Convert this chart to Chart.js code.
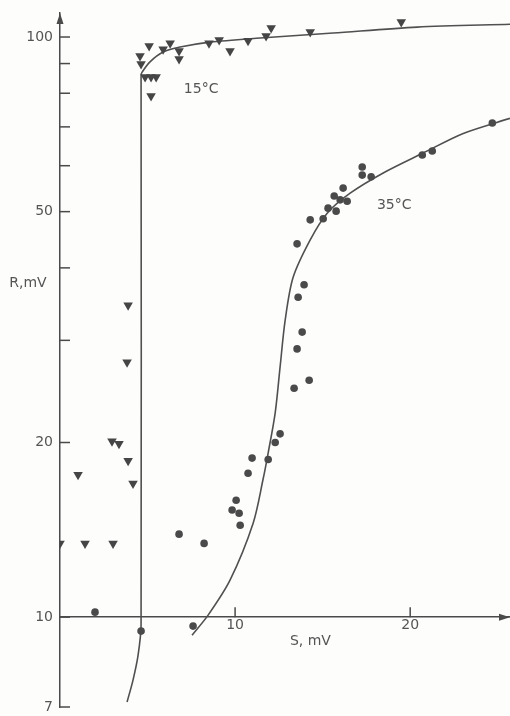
<!DOCTYPE html>
<html>
<head>
<meta charset="utf-8">
<script src="https://cdn.jsdelivr.net/npm/chart.js@4/dist/chart.umd.min.js"></script>
<style>
  body { margin: 0; background: #fdfdfc; }
  #wrap { width: 510px; height: 716px; }
</style>
</head>
<body>
<div id="wrap"><canvas id="cv1" width="510" height="716"></canvas></div>
<script>
// 15 C, triangles
const tri15X = [4.57, 4.63, 5.09, 4.86, 5.2, 5.49, 5.2, 5.89, 6.29, 6.8, 6.8, 8.51, 9.09, 9.71, 10.74, 11.77, 12.06, 14.29, 19.49,
  3.89, 3.83, 2.97, 3.37, 3.89, 4.17, 1.03, 0, 1.43, 3.03];
const tri15Y = [92.7, 89.8, 96.5, 85.3, 85.3, 85.3, 79.1, 95.3, 97.6, 94.6, 91.6, 97.6, 98.8, 94.6, 98.5, 100.4, 103.6, 102.0, 106.1,
  34.5, 27.5, 20.1, 19.9, 18.6, 17.0, 17.6, 13.4, 13.4, 13.4];

// 35 C, dots
const dot35X = [2.0, 4.63, 6.8, 8.23, 7.6, 10.06, 9.83, 10.23, 10.29, 10.74, 10.97, 11.89, 12.29, 12.57, 13.37, 14.23, 13.54, 13.83,
  13.6, 13.94, 13.54, 14.29, 15.03, 15.31, 15.77, 15.66, 16.0, 16.4, 16.17, 17.26, 17.26, 17.77, 20.69, 21.26, 24.69];
const dot35Y = [10.2, 9.46, 13.9, 13.4, 9.65, 15.9, 15.3, 15.1, 14.4, 17.7, 18.8, 18.7, 20.0, 20.7, 24.8, 25.6, 29.0, 31.0,
  35.6, 37.4, 44.0, 48.4, 48.6, 50.7, 50.1, 53.2, 52.4, 52.1, 54.9, 59.7, 57.8, 57.4, 62.6, 63.6, 71.1];

// fitted curves
const curve15X = [3.83, 4.17, 4.46, 4.63, 4.63, 4.69, 5.14, 5.89, 6.86, 8.57, 11.43, 15.6, 20.4, 25.7];
const curve15Y = [7.14, 7.79, 8.6, 9.7, 86, 87, 90.6, 94.2, 96.1, 98.0, 99.6, 101.6, 104.0, 105.2];
const curve35X = [7.54, 8.46, 9.71, 11.03, 11.6, 11.89, 12.29, 12.57, 12.86, 13.31, 14.29, 15.26, 16.57, 18.46, 20.74, 23.03, 25.7];
const curve35Y = [9.31, 10.08, 11.58, 14.52, 17.3, 19.2, 22.5, 27, 32.5, 38.5, 44.7, 49.7, 53.8, 58.3, 63.1, 68.2, 72.4];

const yTicks = [7, 10, 20, 30, 40, 50, 60, 70, 80, 90, 100];
const yTickLabels = ['7', '10', '20', '', '', '50', '', '', '', '', '100'];
const xTicks = [10, 20];
const xTickLabels = ['10', '20'];

const ink = '#4a4a4a';
const font = {family: 'DejaVu Sans', size: 14};

function pts(xs, ys) { return xs.map((x, i) => ({x: x, y: ys[i]})); }

const extras = {
  id: 'extras',
  afterDraw(chart) {
    const ctx = chart.ctx, xs = chart.scales.x, ys = chart.scales.y;
    const x0 = xs.getPixelForValue(0), yAxis = ys.getPixelForValue(10);
    ctx.save();
    ctx.strokeStyle = ink;
    ctx.fillStyle = ink;
    ctx.lineWidth = 1.5;
    // y tick marks, inside
    yTicks.forEach(v => {
      const p = ys.getPixelForValue(v);
      ctx.beginPath(); ctx.moveTo(x0, p); ctx.lineTo(x0 + 10, p); ctx.stroke();
    });
    // x tick marks, upward
    xTicks.forEach(v => {
      const p = xs.getPixelForValue(v);
      ctx.beginPath(); ctx.moveTo(p, yAxis); ctx.lineTo(p, yAxis - 10); ctx.stroke();
    });
    // arrows
    const top = chart.chartArea.top, right = chart.chartArea.right;
    ctx.beginPath(); ctx.moveTo(x0, top); ctx.lineTo(x0 - 3.5, top + 11); ctx.lineTo(x0 + 3.5, top + 11); ctx.closePath(); ctx.fill();
    ctx.beginPath(); ctx.moveTo(right, yAxis); ctx.lineTo(right - 11, yAxis - 3.5); ctx.lineTo(right - 11, yAxis + 3.5); ctx.closePath(); ctx.fill();
    // labels
    ctx.font = '14px "DejaVu Sans"';
    ctx.fillStyle = '#555';
    ctx.textBaseline = 'middle';
    ctx.textAlign = 'center';
    ctx.fillText('R,mV', 28, ys.getPixelForValue(30) - 57);
    ctx.fillText('S, mV', xs.getPixelForValue(14.3), yAxis + 24);
    ctx.fillText('15\u00b0C', xs.getPixelForValue(8.06), ys.getPixelForValue(81.4));
    ctx.fillText('35\u00b0C', xs.getPixelForValue(19.09), ys.getPixelForValue(51.3));
    ctx.restore();
  }
};

new Chart(document.getElementById('cv1'), {
  type: 'scatter',
  data: {
    datasets: [
      {data: pts(curve15X, curve15Y), showLine: true, borderColor: '#505050', borderWidth: 1.6, pointRadius: 0, tension: 0.3, order: 3},
      {data: pts(curve35X, curve35Y), showLine: true, borderColor: '#505050', borderWidth: 1.6, pointRadius: 0, tension: 0.3, order: 3},
      {data: pts(tri15X, tri15Y), pointStyle: 'triangle', rotation: 180, radius: 5.5, backgroundColor: '#454545', borderWidth: 0, order: 1},
      {data: pts(dot35X, dot35Y), pointStyle: 'circle', radius: 3.8, backgroundColor: '#4a4a4a', borderWidth: 0, order: 1}
    ]
  },
  options: {
    responsive: false,
    animation: false,
    layout: {autoPadding: false, padding: {top: 13, bottom: 9, left: 0, right: 0}},
    plugins: {legend: {display: false}, tooltip: {enabled: false}},
    scales: {
      x: {
        type: 'linear', min: 0, max: 25.7, position: {y: 10},
        afterBuildTicks: s => { s.ticks = xTicks.map(v => ({value: v})); },
        afterFit: s => { s.height = 0; s.paddingLeft = 0; s.paddingRight = 0; },
        grid: {display: true, drawOnChartArea: false, drawTicks: false},
        border: {display: true, color: ink, width: 1.5},
        ticks: {color: '#555', font: font, padding: 0, maxRotation: 0,
          callback: (v) => xTickLabels[xTicks.indexOf(v)] || ''}
      },
      y: {
        type: 'logarithmic', min: 7, max: 110, position: 'left',
        afterBuildTicks: s => { s.ticks = yTicks.map(v => ({value: v})); },
        afterFit: s => { s.width = 60; s.paddingTop = 0; s.paddingBottom = 0; },
        grid: {display: true, drawOnChartArea: false, drawTicks: false},
        border: {display: true, color: ink, width: 1.5},
        ticks: {color: '#555', font: font, padding: 7, autoSkip: false,
          callback: (v) => yTickLabels[yTicks.indexOf(v)] || ''}
      }
    }
  },
  plugins: [extras]
});
</script>
</body>
</html>
